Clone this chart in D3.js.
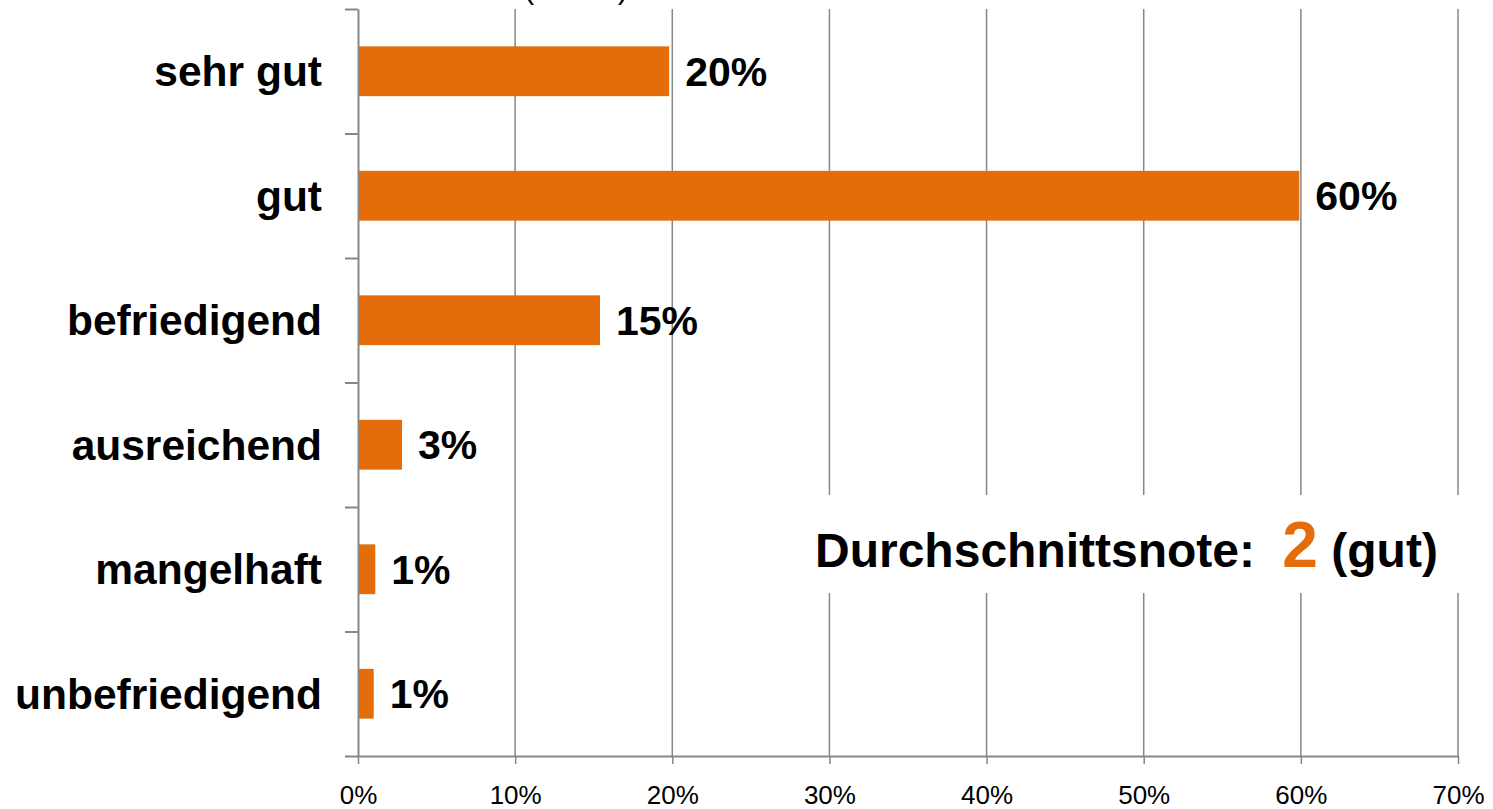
<!DOCTYPE html>
<html>
<head>
<meta charset="utf-8">
<script src="https://cdn.jsdelivr.net/npm/d3@7"></script>
<style>
  html, body { margin: 0; padding: 0; background: #fff; }
  svg { display: block; font-family: "Liberation Sans", Arial, sans-serif; }
</style>
</head>
<body>
<div id="chart"></div>
<script>
// categories + values (percent)
var categories = ['sehr gut', 'gut', 'befriedigend', 'ausreichend', 'mangelhaft', 'unbefriedigend'];
var values = [19.8, 59.9, 15.4, 2.8, 1.1, 1.0];
var valueLabels = ['20%', '60%', '15%', '3%', '1%', '1%'];
var xTicks = [0, 10, 20, 30, 40, 50, 60, 70];

(function(){
    var W = 1493, H = 809;
    var mLeft = 358, mRight = 1458, mTop = 9, mBottom = 756;
    var orange = '#E46C0A', grey = '#878787';

    var svg = d3.select('#chart').append('svg')
        .attr('width', W).attr('height', H);

    var x = d3.scaleLinear().domain([0, 70]).range([mLeft, mRight]);
    var y = d3.scaleBand().domain(categories).range([mTop, mBottom]).paddingInner(0.6).paddingOuter(0.3);
    var yEdge = d3.scaleLinear().domain([0, categories.length]).range([mTop, mBottom]);

    // cut off title remnant at the very top
    svg.append('text')
        .attr('x', 576).attr('y', -1)
        .attr('text-anchor', 'middle')
        .attr('font-size', 30)
        .text('(\u00a0\u00a0\u00a0\u00a0\u00a0\u00a0\u00a0\u00a0\u00a0\u00a0)');

    // gridlines
    svg.append('g').selectAll('line')
        .data(xTicks.filter(function(d){ return d > 0; }))
        .join('line')
        .attr('x1', function(d){ return x(d); })
        .attr('x2', function(d){ return x(d); })
        .attr('y1', mTop).attr('y2', mBottom)
        .attr('stroke', grey).attr('stroke-width', 1.5);

    // bars
    svg.append('g').selectAll('rect')
        .data(values)
        .join('rect')
        .attr('x', x(0) + 1)
        .attr('y', function(d, i){ return y(categories[i]); })
        .attr('width', function(d){ return x(d) - x(0) - 1; })
        .attr('height', y.bandwidth())
        .attr('fill', orange);

    // value labels
    svg.append('g').selectAll('text')
        .data(values)
        .join('text')
        .attr('x', function(d){ return x(d) + 16; })
        .attr('y', function(d, i){ return y(categories[i]) + y.bandwidth() / 2; })
        .attr('dy', '0.35em')
        .attr('font-size', 41).attr('font-weight', 'bold')
        .text(function(d, i){ return valueLabels[i]; });

    // category labels
    svg.append('g').selectAll('text')
        .data(categories)
        .join('text')
        .attr('x', 322)
        .attr('y', function(d){ return y(d) + y.bandwidth() / 2; })
        .attr('dy', '0.35em')
        .attr('text-anchor', 'end')
        .attr('font-size', 42.5).attr('font-weight', 'bold')
        .text(function(d){ return d; });

    // white box with average grade
    svg.append('rect')
        .attr('x', 790).attr('y', 495)
        .attr('width', 690).attr('height', 98)
        .attr('fill', '#fff');

    var note = svg.append('text')
        .attr('x', 815).attr('y', 567)
        .attr('font-size', 48).attr('font-weight', 'bold');
    note.append('tspan').text('Durchschnittsnote: ');
    note.append('tspan').attr('dx', 14).attr('font-size', 64).attr('fill', orange).text('2');
    note.append('tspan').attr('dx', 0).text(' (gut)');

    // y axis
    var yAxis = svg.append('g')
        .attr('transform', 'translate(' + mLeft + ',0)')
        .call(d3.axisLeft(yEdge)
            .tickValues(d3.range(categories.length + 1))
            .tickFormat('')
            .tickSize(13)
            .tickSizeOuter(0));
    yAxis.selectAll('path, line').attr('stroke', grey).attr('stroke-width', 2);

    // x axis
    var xAxis = svg.append('g')
        .attr('transform', 'translate(0,' + mBottom + ')')
        .call(d3.axisBottom(x)
            .tickValues(xTicks)
            .tickFormat(function(d){ return d + '%'; })
            .tickSize(8)
            .tickSizeOuter(0));
    xAxis.select('.domain').attr('stroke', grey).attr('stroke-width', 2);
    xAxis.selectAll('line').attr('stroke', grey).attr('stroke-width', 1.5);
    xAxis.selectAll('text')
        .attr('y', 48).attr('dy', 0)
        .attr('font-size', 26)
        .attr('font-family', '"Liberation Sans", Arial, sans-serif')
        .attr('fill', '#000');
})();
</script>
</body>
</html>
